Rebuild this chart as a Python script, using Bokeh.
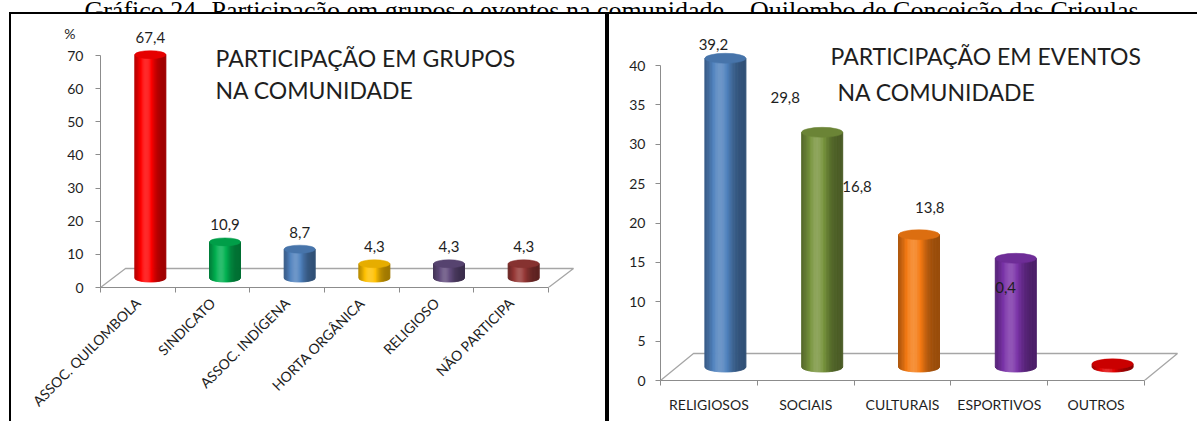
import numpy as np
from bokeh.plotting import figure
from bokeh.layouts import column, row
from bokeh.models import (Label, FixedTicker, Range1d, Spacer, LinearAxis,
                          GlobalInlineStyleSheet)
from bokeh.core.properties import value
from bokeh.embed import file_html
from bokeh.resources import INLINE

# ---- data -----------------------------------------------------------------
TITLE = ("Gráfico 24- Participação em grupos e eventos na comunidade – "
         "Quilombo de Conceição das Crioulas")

grupos = ["ASSOC. QUILOMBOLA", "SINDICATO", "ASSOC. INDÍGENA",
          "HORTA ORGÂNICA", "RELIGIOSO", "NÃO PARTICIPA"]
grupos_pct = [67.4, 10.9, 8.7, 4.3, 4.3, 4.3]
grupos_labels = ["67,4", "10,9", "8,7", "4,3", "4,3", "4,3"]
grupos_ticks = [0, 10, 20, 30, 40, 50, 60, 70]

eventos = ["RELIGIOSOS", "SOCIAIS", "CULTURAIS", "ESPORTIVOS", "OUTROS"]
eventos_pct = [39.2, 29.8, 16.8, 13.8, 0.4]
eventos_labels = ["39,2", "29,8", "16,8", "13,8", "0,4"]
eventos_ticks = [0, 5, 10, 15, 20, 25, 30, 35, 40]

# ---- styling ----------------------------------------------------------------
grupos_cores = ["#FF0000", "#00B050", "#4F81BD", "#FFC000", "#604A7B", "#953735"]
eventos_cores = ["#4F81BD", "#77933C", "#F47A12", "#7A32A8", "#E00000"]

FONT = "Lato"
TXT = "#1e1e1e"
AXIS = "#8c8c8c"


def hex_rgb(h):
    h = h.lstrip("#")
    return np.array([int(h[i:i + 2], 16) for i in (0, 2, 4)], dtype=float)


def shade(rgb, f):
    if f >= 1:
        c = rgb + (255 - rgb) * (f - 1)
    else:
        c = rgb * f
    c = np.clip(np.round(c), 0, 255).astype(int)
    return "#%02x%02x%02x" % tuple(c)


def profile(t):
    # light falls on the cylinder a little left of its middle
    return 0.62 + 0.55 * np.exp(-((t - 0.38) / 0.28) ** 2)


def draw_cylinders(p, values, colors, lift, shift, width, eh, n=28):
    xs, ys, cols = [], [], []
    cx_all, top_all, topc = [], [], []
    for i, (v, hx) in enumerate(zip(values, colors)):
        rgb = hex_rgb(hx)
        cx = i + 0.5 + shift
        base = lift
        top = lift + v
        edges = np.linspace(-1, 1, n + 1)
        for k in range(n):
            u0, u1 = edges[k], edges[k + 1]
            us = np.linspace(u0, u1, 4)
            bx = cx + us * width / 2
            by = base - (eh / 2) * np.sqrt(np.clip(1 - us ** 2, 0, None))
            xs.append(list(bx) + [cx + u1 * width / 2, cx + u0 * width / 2])
            ys.append(list(by) + [top, top])
            cols.append(shade(rgb, profile((0.5 * (u0 + u1) + 1) / 2)))
        cx_all.append(cx)
        top_all.append(top)
        topc.append(shade(rgb, 0.9))
    p.patches(xs, ys, fill_color=cols, line_color=cols, line_width=1)
    p.ellipse(x=cx_all, y=top_all, width=width, height=eh,
              fill_color=topc, line_color=topc, line_width=0.5)
    return cx_all, top_all


def floor(p, n, ddx, ddy):
    p.line([0, ddx, n + ddx, n], [0, ddy, ddy, 0],
           line_color="#a6a6a6", line_width=1.3)


def style_axes(p, names, ticks, standoff_x, standoff_y, orient):
    n = len(names)
    xa = p.xaxis[0]
    centers = [i + 0.5 for i in range(n)]
    xa.ticker = FixedTicker(ticks=centers, minor_ticks=list(range(n + 1)))
    xa.major_label_overrides = {c: s for c, s in zip(centers, names)}
    xa.bounds = (0, n)
    xa.major_tick_out = 0
    xa.major_tick_in = 0
    xa.minor_tick_out = 5
    xa.minor_tick_in = 0
    xa.minor_tick_line_color = AXIS
    xa.axis_line_color = AXIS
    xa.major_label_standoff = standoff_x
    xa.major_label_orientation = orient
    xa.major_label_text_font = FONT
    xa.major_label_text_font_size = "14px"
    xa.major_label_text_color = TXT

    ya = p.yaxis[0]
    ya.ticker = FixedTicker(ticks=ticks, minor_ticks=[])
    ya.bounds = (ticks[0], ticks[-1])
    ya.major_tick_out = 5
    ya.major_tick_in = 0
    ya.major_tick_line_color = AXIS
    ya.axis_line_color = AXIS
    ya.major_label_standoff = standoff_y
    ya.major_label_text_font = FONT
    ya.major_label_text_font_size = "14px"
    ya.major_label_text_color = TXT
    p.grid.visible = False
    p.outline_line_color = None


def panel(width, height, x_end, y_end, mb, shadow):
    return figure(width=width, height=height,
                  x_range=Range1d(0, x_end), y_range=Range1d(0, y_end),
                  min_border_left=mb[0], min_border_right=mb[1],
                  min_border_top=mb[2], min_border_bottom=mb[3],
                  toolbar_location=None, output_backend="svg",
                  background_fill_color=None, border_fill_color=None,
                  styles={"box-shadow": shadow})


def heading(p, lines, xs, ys, size):
    for line, x, y in zip(lines, xs, ys):
        p.add_layout(Label(x=x, y=y, text=line, text_font=FONT,
                           text_font_size=size, text_color=TXT,
                           text_baseline="middle"))


# ---- left panel: groups ------------------------------------------------------
LX_PX, LY_PX = 74.67, 3.314          # pixels per category / per percent
left = panel(598, 409, 505 / LX_PX, 273 / LY_PX, (91, 2, 2, 134),
             "inset 2px 2px 0 0 #000, inset -2px 0 0 0 #000")
style_axes(left, grupos, grupos_ticks, 8, 12, np.pi / 4)

# unit marker shown as a lone tick label above the value axis
unit_axis = LinearAxis(ticker=FixedTicker(ticks=[(287 - 33) / LY_PX]),
                       major_label_overrides={(287 - 33) / LY_PX: "%"},
                       axis_line_color=None, major_tick_line_color=None,
                       minor_tick_line_color=None, major_label_standoff=-17,
                       major_label_text_font=FONT,
                       major_label_text_font_size="14px",
                       major_label_text_color=TXT)
left.add_layout(unit_axis, "left")

floor(left, len(grupos), 25 / LX_PX, 19 / LY_PX)
gx, gt = draw_cylinders(left, grupos_pct, grupos_cores,
                        lift=9.5 / LY_PX, shift=12.5 / LX_PX,
                        width=31 / LX_PX, eh=8 / LY_PX)
left.text(x=gx, y=[t + 17 / LY_PX for t in gt], text=grupos_labels,
          text_font=value(FONT), text_font_size="15px", text_color=TXT,
          text_align="center", text_baseline="middle")
heading(left, ["PARTICIPAÇÃO EM GRUPOS", "NA COMUNIDADE"],
        [(215 - 100) / LX_PX] * 2,
        [(287 - 57) / LY_PX, (287 - 89) / LY_PX], "23px")

# ---- right panel: events -----------------------------------------------------
# same top/bottom borders as the left panel, taller canvas so that its
# floor sits lower; the part below the page is hidden by the page style
RX_PX, RY_PX = 96.8, 7.875
right = panel(590, 502, 537 / RX_PX, 366 / RY_PX, (53, 0, 2, 134),
              "inset 2px 2px 0 0 #000")
style_axes(right, eventos, eventos_ticks, 10, 10, "horizontal")
floor(right, len(eventos), 33 / RX_PX, 27 / RY_PX)
ex, et = draw_cylinders(right, eventos_pct, eventos_cores,
                        lift=13.5 / RY_PX, shift=16.5 / RX_PX,
                        width=41 / RX_PX, eh=10 / RY_PX)
# value labels sit where the original layout left them (pixel nudges)
nudges = [(-12, -14), (-37, -35), (-62, -48), (-86, -51), (-107, -76)]
right.text(x=[x + dx / RX_PX for x, (dx, dy) in zip(ex, nudges)],
           y=[t - dy / RY_PX for t, (dx, dy) in zip(et, nudges)],
           text=eventos_labels, text_font=value(FONT), text_font_size="15px",
           text_color=TXT, text_align="center", text_baseline="middle")
heading(right, ["PARTICIPAÇÃO EM EVENTOS", "NA COMUNIDADE"],
        [(830 - 660) / RX_PX, (837 - 660) / RX_PX],
        [(380 - 55) / RY_PX, (380 - 91) / RY_PX], "23px")

# ---- page title ----------------------------------------------------------------
head = figure(width=1197, height=12, x_range=(0, 1197), y_range=(0, 12),
              x_axis_type=None, y_axis_type=None, min_border=0,
              toolbar_location=None, output_backend="svg",
              outline_line_color=None)
head.add_layout(Label(x=611, y=2, text=TITLE, text_font="Liberation Serif",
                      text_font_size="26px", text_color="#000",
                      text_align="center", text_baseline="alphabetic"))

page_css = GlobalInlineStyleSheet(css="html, body { overflow: hidden; }")
layout = column(head, row(Spacer(width=9, height=409), left, right),
                stylesheets=[page_css])
open("out.html", "w").write(file_html(layout, INLINE))
